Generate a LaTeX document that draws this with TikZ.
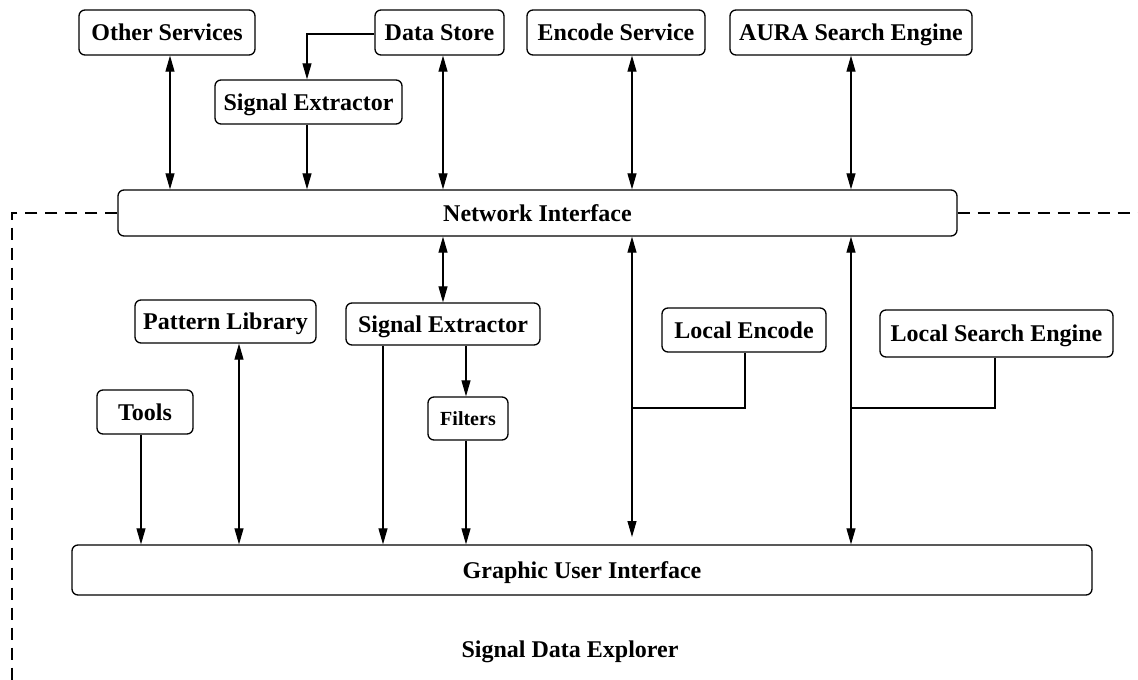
\documentclass[tikz,border=0pt]{standalone}
\usepackage{fontspec}
\setmainfont{Liberation Serif}
\usetikzlibrary{arrows.meta}
\begin{document}
\begin{tikzpicture}[x=1pt,y=-1pt,
  box/.style={draw, line width=1.3pt, rounded corners=6pt, inner sep=0pt,
    font=\fontsize{24}{26}\selectfont\bfseries, text height=17pt, text depth=1pt},
  conn/.style={line width=1.1pt},
  tip/.style={line width=1.1pt, -{Triangle[length=16pt,width=9pt]}},
  both/.style={line width=1.1pt, {Triangle[length=16pt,width=9pt]}-{Triangle[length=16pt,width=9pt]}},
  bound/.style={line width=1.1pt, dash pattern=on 12pt off 8pt}]
\useasboundingbox (0,0) rectangle (1138,680);
\fill[white] (0,0) rectangle (1138,680);
% top row
\node[box, minimum width=176, minimum height=45] (os) at (167,32.5) {Other Services};
\node[box, minimum width=129, minimum height=45] (ds) at (439.5,32.5) {Data Store};
\node[box, minimum width=178, minimum height=45] (es) at (616,32.5) {Encode Service};
\node[box, minimum width=242, minimum height=45] (aura) at (851,32.5) {AURA Search Engine};
\node[box, minimum width=187, minimum height=44] (se1) at (308.5,102) {Signal Extractor};
\node[box, minimum width=839, minimum height=46] (ni) at (537.5,213) {Network Interface};
% middle
\node[box, minimum width=181, minimum height=43] (pl) at (225.5,321.5) {Pattern Library};
\node[box, minimum width=194, minimum height=42] (se2) at (443,324) {Signal Extractor};
\node[box, minimum width=164, minimum height=44] (le) at (744,330) {Local Encode};
\node[box, minimum width=233, minimum height=47] (lse) at (996.5,333.5) {Local Search Engine};
\node[box, minimum width=96, minimum height=44] (tools) at (145,412) {Tools};
\node[box, minimum width=80, minimum height=43, font=\fontsize{20}{22}\selectfont\bfseries, text height=14pt, text depth=1pt] (filters) at (468,418.5) {Filters};
\node[box, minimum width=1020, minimum height=50] (gui) at (582,570) {Graphic User Interface};
\node[font=\fontsize{24}{26}\selectfont\bfseries] (sde) at (570,652) {Signal Data Explorer};
% boundary
\coordinate (bl) at (12,213);
\coordinate (br) at (1138,213);
\coordinate (bb) at (12,680);
\draw[bound] (ni.west) -- (bl) -- (bb);
\draw[bound] (ni.east) -- (br);
% top connectors
\draw[both] (os.south -| 170,0) -- (ni.north -| 170,0);
\coordinate (dsk) at (307,34);
\draw[tip] (ds.west |- dsk) -- (dsk) -- (se1.north -| dsk);
\draw[tip] (se1.south -| dsk) -- (ni.north -| dsk);
\draw[both] (ds.south -| 443,0) -- (ni.north -| 443,0);
\draw[both] (es.south -| 632,0) -- (ni.north -| 632,0);
\draw[both] (aura.south -| 851,0) -- (ni.north -| 851,0);
% lower connectors
\draw[both] (ni.south -| 443,0) -- (se2.north -| 443,0);
\draw[both] (pl.south -| 239,0) -- (gui.north -| 239,0);
\draw[tip] (tools.south -| 141,0) -- (gui.north -| 141,0);
\draw[tip] (se2.south -| 383,0) -- (gui.north -| 383,0);
\draw[tip] (se2.south -| 466,0) -- (filters.north -| 466,0);
\draw[tip] (filters.south -| 466,0) -- (gui.north -| 466,0);
\coordinate (g1) at (632,537);
\draw[both] (ni.south -| g1) -- (g1);
\draw[both] (ni.south -| 851,0) -- (gui.north -| 851,0);
\coordinate (j1) at (632,408);
\coordinate (j2) at (851,408);
\draw[conn] (le.south -| 745,0) -- (745,408) -- (j1);
\draw[conn] (lse.south -| 995,0) -- (995,408) -- (j2);
\end{tikzpicture}
\end{document}
